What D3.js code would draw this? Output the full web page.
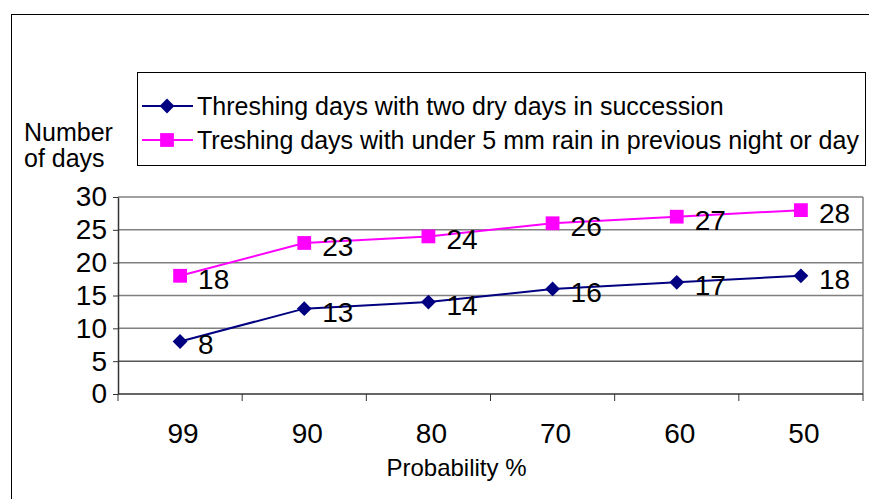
<!DOCTYPE html>
<html>
<head>
<meta charset="utf-8">
<script src="https://cdn.jsdelivr.net/npm/d3@7"></script>
<style>
  html, body { margin: 0; padding: 0; background: #fff; }
  svg { display: block; font-family: Arial, "Liberation Sans", sans-serif; }
</style>
</head>
<body>
<svg id="chart" width="869" height="499"></svg>
<script>
// Probability classes (%) on the x axis
const categories = ["99", "90", "80", "70", "60", "50"];
// Threshing days with two dry days in succession
const dryDays = [8, 13, 14, 16, 17, 18];
// Threshing days with under 5 mm rain in previous night or day
const lowRainDays = [18, 23, 24, 26, 27, 28];
const yTicks = [0, 5, 10, 15, 20, 25, 30];
const seriesNames = [
  "Threshing days with two dry days in succession",
  "Treshing days with under 5 mm rain in previous night or day"
];

const series = [
  { name: seriesNames[0], values: dryDays, color: "#000080", marker: "diamond" },
  { name: seriesNames[1], values: lowRainDays, color: "#FF00FF", marker: "square" }
];

const svg = d3.select("#chart");

// Outer chart frame
svg.append("rect")
  .attr("x", 11.5).attr("y", 14.5)
  .attr("width", 900).attr("height", 600)
  .attr("fill", "none").attr("stroke", "#000").attr("stroke-width", 1);

const plot = { left: 118, right: 863, top: 197, bottom: 394 };

const x = d3.scaleBand().domain(categories).range([plot.left, plot.right]);
const y = d3.scaleLinear().domain([0, 30]).range([plot.bottom, plot.top]);

// Horizontal gridlines
svg.append("g").selectAll("line")
  .data(yTicks.filter(d => d > 0))
  .join("line")
  .attr("x1", plot.left).attr("x2", plot.right)
  .attr("y1", d => y(d)).attr("y2", d => y(d))
  .attr("stroke", d => d === 5 ? "#000" : "#808080")
  .attr("stroke-width", d => d === 5 ? 1 : 1.5);

// Right edge of plot area
svg.append("line")
  .attr("x1", plot.right).attr("x2", plot.right)
  .attr("y1", plot.top).attr("y2", plot.bottom)
  .attr("stroke", "#808080").attr("stroke-width", 1.5);

// Y axis
const yAxis = d3.axisLeft(y).tickValues(yTicks).tickSize(5).tickSizeOuter(0).tickPadding(6);
const gy = svg.append("g").attr("transform", `translate(${plot.left},0)`).call(yAxis);
gy.select(".domain").attr("stroke", "#333").attr("stroke-width", 1.5);
gy.selectAll(".tick line").attr("stroke", "#333");
gy.selectAll(".tick text")
  .attr("font-size", 28).attr("fill", "#000")
  .attr("font-family", "Arial, 'Liberation Sans', sans-serif");

// X axis with ticks on category boundaries
const gx = svg.append("g").attr("transform", `translate(0,${plot.bottom})`);
gx.append("line")
  .attr("x1", plot.left).attr("x2", plot.right)
  .attr("stroke", "#333").attr("stroke-width", 1.5);
const bounds = categories.map(c => x(c)).concat([plot.right]);
gx.selectAll("line.tick")
  .data(bounds)
  .join("line").attr("class", "tick")
  .attr("x1", d => d).attr("x2", d => d)
  .attr("y1", 0).attr("y2", 7)
  .attr("stroke", "#333");
gx.selectAll("text")
  .data(categories)
  .join("text")
  .attr("x", d => x(d) + x.bandwidth() / 2 + 3)
  .attr("y", 49)
  .attr("text-anchor", "middle")
  .attr("font-size", 28)
  .text(d => d);

// Axis titles
svg.append("text")
  .attr("x", (plot.left + plot.right) / 2 - 34).attr("y", 476)
  .attr("text-anchor", "middle").attr("font-size", 24)
  .text("Probability %");
const yTitle = svg.append("text").attr("font-size", 25);
yTitle.append("tspan").attr("x", 24).attr("y", 141).text("Number");
yTitle.append("tspan").attr("x", 24).attr("y", 167).text("of days");

// Marker shapes
const markerPath = {
  diamond: d3.symbol().type(d3.symbolDiamond2).size(140)(),
  square: d3.symbol().type(d3.symbolSquare).size(190)()
};

const line = d3.line()
  .x((d, i) => x(categories[i]) + x.bandwidth() / 2)
  .y(d => y(d));

series.forEach(s => {
  const g = svg.append("g");
  g.append("path")
    .attr("d", line(s.values))
    .attr("fill", "none").attr("stroke", s.color).attr("stroke-width", 2);
  g.selectAll("path.m")
    .data(s.values)
    .join("path").attr("class", "m")
    .attr("d", markerPath[s.marker])
    .attr("transform", (d, i) => `translate(${x(categories[i]) + x.bandwidth() / 2},${y(d)})`)
    .attr("fill", s.color);
  g.selectAll("text")
    .data(s.values)
    .join("text")
    .attr("x", (d, i) => x(categories[i]) + x.bandwidth() / 2 + 18)
    .attr("y", d => y(d) + 13)
    .attr("font-size", 28)
    .text(d => d);
});

// Legend
const legend = svg.append("g");
legend.append("rect")
  .attr("x", 137.5).attr("y", 72.5)
  .attr("width", 728).attr("height", 93)
  .attr("fill", "#fff").attr("stroke", "#000").attr("stroke-width", 1);
series.forEach((s, i) => {
  const cy = 106 + i * 34;
  legend.append("line")
    .attr("x1", 142).attr("x2", 193)
    .attr("y1", cy).attr("y2", cy)
    .attr("stroke", s.color).attr("stroke-width", 2);
  legend.append("path")
    .attr("d", markerPath[s.marker])
    .attr("transform", `translate(167,${cy})`)
    .attr("fill", s.color);
  legend.append("text")
    .attr("x", 197).attr("y", cy + 9)
    .attr("font-size", 25)
    .text(s.name);
});
</script>
</body>
</html>
